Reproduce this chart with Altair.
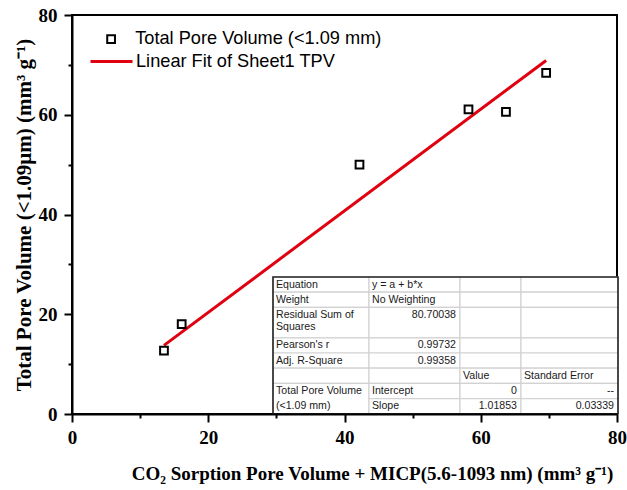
import altair as alt
import pandas as pd

# ---------------- data ----------------
co2_micp = [13.5, 16.1, 42.2, 58.2, 63.7, 69.6]
total_pore_volume = [12.7, 18.0, 50.0, 61.1, 60.6, 68.4]
series_points = "Total Pore Volume (<1.09 mm)"
series_fit = "Linear Fit of Sheet1 TPV"
fit_intercept = 0.0
fit_slope = 1.01853

axis_ticks = [0, 10, 20, 30, 40, 50, 60, 70, 80]

table_rows = [
    ["Equation", "y = a + b*x", "", ""],
    ["Weight", "No Weighting", "", ""],
    ["Residual Sum of\nSquares", "80.70038", "", ""],
    ["Pearson's r", "0.99732", "", ""],
    ["Adj. R-Square", "0.99358", "", ""],
    ["", "", "Value", "Standard Error"],
    ["Total Pore Volume", "Intercept", "0", "--"],
    ["(<1.09 mm)", "Slope", "1.01853", "0.03339"],
]
numeric_cells = {"80.70038", "0.99732", "0.99358", "0", "--", "1.01853", "0.03339"}

# ---------------- layout / style ----------------
W, H = 545, 399
SERIF = "Liberation Serif"
SANS = "Liberation Sans"
TABLE_LEFT, TABLE_TOP = 201, 262
TABLE_COL_W = [96, 91, 61, 97]
TABLE_ROW_UNITS = [1, 1, 2, 1, 1, 1, 1, 1]
TABLE_UNIT_H = 15.2

pts = pd.DataFrame({"x": co2_micp, "y": total_pore_volume, "series": series_points})
fit_x = [min(co2_micp), max(co2_micp)]
fit = pd.DataFrame({"x": fit_x,
                    "y": [fit_intercept + fit_slope * v for v in fit_x],
                    "series": series_fit})

xscale = alt.Scale(domain=[0, 80], nice=False, zero=False)
yscale = alt.Scale(domain=[0, 80], nice=False, zero=False)
major = "datum.value % 20 === 0"


def make_axis(title, title_pad, label_pad, title_size, **kw):
    return alt.Axis(
        values=axis_ticks, title=title, grid=False,
        labelExpr=f"{major} ? datum.label : ''",
        labelFont=SERIF, labelFontWeight="bold", labelFontSize=19,
        labelColor="black", labelFlush=False, labelOverlap=False,
        labelPadding=label_pad,
        tickSize={"condition": {"test": major, "value": 8}, "value": 4},
        tickWidth=2, tickColor="black",
        domainWidth=2, domainColor="black",
        titleFont=SERIF, titleFontWeight="bold", titleFontSize=title_size,
        titleColor="black", titlePadding=title_pad, zindex=1, **kw
    )


x_axis = make_axis("CO\u2082 Sorption Pore Volume + MICP(5.6-1093 nm) (mm\u00b3 g\u207b\u00b9)",
                   17, 6, 19, titleX=300)
y_axis = make_axis("Total Pore Volume (<1.09\u03bcm) (mm\u00b3 g\u207b\u00b9)", 4, 7, 21)

line = alt.Chart(fit).mark_line(strokeWidth=3).encode(
    x=alt.X("x:Q", scale=xscale),
    y=alt.Y("y:Q", scale=yscale),
    color=alt.Color(
        "series:N",
        scale=alt.Scale(domain=[series_fit], range=["#e0000f"]),
        legend=alt.Legend(
            orient="none", legendX=17, legendY=24, title=None, padding=0,
            symbolType="stroke", symbolSize=1764, symbolStrokeWidth=3,
            labelFont=SANS, labelFontSize=18.2, labelColor="black",
            labelLimit=0, labelOffset=2,
        ),
    ),
)

points = alt.Chart(pts).mark_point(
    shape="square", filled=False, size=60, strokeWidth=2, color="black", opacity=1
).encode(
    x=alt.X("x:Q", scale=xscale, axis=x_axis),
    y=alt.Y("y:Q", scale=yscale, axis=y_axis),
    shape=alt.Shape(
        "series:N",
        scale=alt.Scale(domain=[series_points], range=["square"]),
        legend=alt.Legend(
            orient="none", legendX=30, legendY=15, title=None, padding=0,
            symbolSize=60, symbolStrokeWidth=2, symbolStrokeColor="black",
            symbolFillColor="white",
            labelFont=SANS, labelFontSize=18.2, labelColor="black",
            labelLimit=0, labelOffset=15,
        ),
    ),
)

# ---------------- table (annotation) ----------------
col_edges = [TABLE_LEFT]
for w in TABLE_COL_W:
    col_edges.append(col_edges[-1] + w)
row_edges = [TABLE_TOP]
for u in TABLE_ROW_UNITS:
    row_edges.append(row_edges[-1] + u * TABLE_UNIT_H)

cells, texts = [], []
n_rows = len(table_rows)
for r, row in enumerate(table_rows):
    for c, txt in enumerate(row):
        if not (c == 0 and r == n_rows - 1):
            y2 = row_edges[n_rows] if (c == 0 and r == n_rows - 2) else row_edges[r + 1]
            cells.append({"x": col_edges[c], "x2": col_edges[c + 1],
                          "y": row_edges[r], "y2": y2})
        if txt:
            right = txt in numeric_cells
            texts.append({
                "tx": col_edges[c + 1] - 4 if right else col_edges[c] + 3,
                "ty": row_edges[r] + 2.5,
                "text": txt,
                "align": "right" if right else "left",
            })
cells_df = pd.DataFrame(cells)
texts_df = pd.DataFrame(texts)
outline_df = pd.DataFrame([{"x": col_edges[0], "x2": col_edges[-1],
                            "y": row_edges[0], "y2": row_edges[-1]}])

tx_scale = alt.Scale(domain=[0, W], nice=False, zero=False)
ty_scale = alt.Scale(domain=[0, H], nice=False, zero=False, reverse=True)

table_cells = alt.Chart(cells_df).mark_rect(
    fill="white", stroke="#d2d2d2", strokeWidth=1.2
).encode(
    x=alt.X("x:Q", scale=tx_scale, axis=None), x2="x2:Q",
    y=alt.Y("y:Q", scale=ty_scale, axis=None), y2="y2:Q",
)
table_outline = alt.Chart(outline_df).mark_rect(
    fill=None, fillOpacity=0, stroke="#222222", strokeWidth=1.6
).encode(
    x=alt.X("x:Q", scale=tx_scale, axis=None), x2="x2:Q",
    y=alt.Y("y:Q", scale=ty_scale, axis=None), y2="y2:Q",
)


def text_layer(align):
    return alt.Chart(texts_df[texts_df["align"] == align]).mark_text(
        align=align, baseline="top", font=SANS, fontSize=10.6,
        lineBreak="\n", lineHeight=12.5, color="#1a1a1a"
    ).encode(
        x=alt.X("tx:Q", scale=tx_scale, axis=None),
        y=alt.Y("ty:Q", scale=ty_scale, axis=None),
        text="text:N",
    )


chart = alt.layer(
    alt.layer(line, points),
    table_cells, table_outline, text_layer("left"), text_layer("right"),
).resolve_scale(x="independent", y="independent").properties(
    width=W, height=H,
    padding={"left": 72, "top": 15, "right": 10, "bottom": 76},
    autosize=alt.AutoSizeParams(type="none"),
    background="white",
).configure_view(stroke="black", strokeWidth=2)

chart.save("out.html", embed_options={"renderer": "svg", "actions": False})
